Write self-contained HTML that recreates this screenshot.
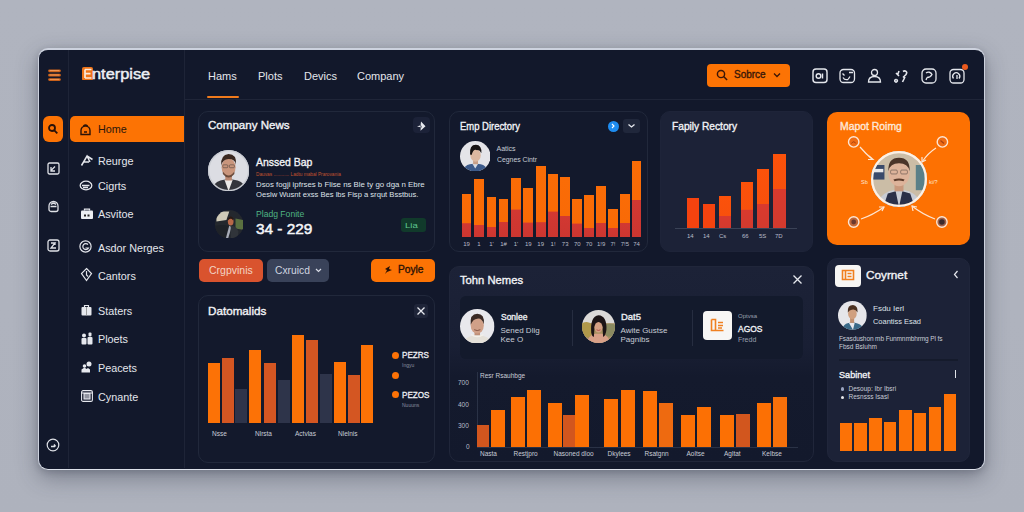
<!DOCTYPE html>
<html><head><meta charset="utf-8">
<style>
*{box-sizing:border-box;margin:0;padding:0}
html,body{width:1024px;height:512px;overflow:hidden}
body{font-family:"Liberation Sans",sans-serif;background:linear-gradient(180deg,#b0b4bf 0%,#afb3be 60%,#aeb2bd 100%);position:relative;color:#e8eaf0}
.a{position:absolute}
.app{position:absolute;left:38px;top:47.8px;width:947.4px;height:422.2px;background:#12182b;border:1.5px solid #cdd2de;border-top-width:2px;border-bottom-color:#dde1ea;border-radius:10px;box-shadow:0 8px 22px rgba(40,45,62,.38),0 2px 6px rgba(40,45,62,.2)}
.vl{position:absolute;width:1px;background:#1e2437}
.hl{position:absolute;height:1px;background:#1f2538}
.panel{position:absolute;background:#13192c;border:1px solid #21283b;border-radius:10px}
.t{position:absolute;white-space:nowrap;line-height:1}
.nav{position:absolute;left:98px;font-size:10.8px;color:#e4e6ec;white-space:nowrap;line-height:1}
.hn{position:absolute;top:71px;font-size:11px;color:#e4e6ec;white-space:nowrap;line-height:1}
.bar{position:absolute}
.o{background:#fc7206}
.r{background:#d45622}
.s{background:#2e344a}
.sb{font-weight:normal;-webkit-text-stroke:0.35px currentColor}
.hic{position:absolute;top:69px;width:14px;height:14px;border:1.3px solid #e6e8ee;border-radius:4px}
</style></head><body>
<div class="app"></div>
<!-- dividers -->
<div class="vl" style="left:68px;top:50px;height:418px"></div>
<div class="vl" style="left:184px;top:50px;height:418px"></div>
<div class="hl" style="left:185px;top:99px;width:799px"></div>

<!-- logo -->
<svg class="a" style="left:47.5px;top:68.5px" width="13" height="12.5" viewBox="0 0 13 12.5"><g stroke-linecap="round"><path d="M1.5 1.8h10M1.5 6.2h10M1.5 10.6h10" stroke="#c8601a" stroke-width="2.8"/><path d="M2 1.6h9M2 6h9M2 10.4h9" stroke="#f29a58" stroke-width="1"/></g></svg>


<svg class="a" style="left:81.5px;top:66.8px" width="11" height="13.5" viewBox="0 0 11 13.5"><rect x="0" y="0" width="11" height="13.5" rx="1.8" fill="#ee7418"/><path d="M3 2.5h6.5M3 6.7h5.5M3 11h6.5M3 2.5v8.5" stroke="#fbe8d8" stroke-width="1.7" fill="none"/></svg>
<div class="t sb" style="left:92.3px;top:65.5px;font-size:15px;color:#eef0f5;transform:scaleX(1.09);transform-origin:0 0;-webkit-text-stroke:0.45px #eef0f5">nterpise</div>

<!-- top nav -->
<div class="hn" style="left:208px">Hams</div>
<div class="hn" style="left:258px">Plots</div>
<div class="hn" style="left:304px">Devics</div>
<div class="hn" style="left:357px">Company</div>
<div class="a" style="left:207px;top:96px;width:32px;height:2px;background:#f07a1c;border-radius:1px"></div>

<!-- search -->
<div class="a" style="left:707px;top:64px;width:83px;height:23px;background:#fc7304;border-radius:4px"></div>
<div class="t sb" style="left:734px;top:70px;font-size:10px;color:#3a1808">Sobrce</div>

<!-- header icons -->
<svg class="a" style="left:812px;top:68px" width="16" height="16" viewBox="0 0 16 16" fill="none" stroke="#e4e6ec" stroke-width="1.45"><rect x="1" y="1" width="14" height="13.5" rx="3"/><circle cx="6.5" cy="8" r="2.3"/><path d="M10.5 5.5v5"/></svg>
<svg class="a" style="left:839px;top:68px" width="17" height="16" viewBox="0 0 17 16" fill="none" stroke="#e4e6ec" stroke-width="1.3"><rect x="1" y="1.5" width="14.5" height="13" rx="3.5"/><path d="M4 9.5c1 2 3 2.5 5 2 M9 11.5l2-3 M10 4.5h4 M3.5 5.5l2 2"/></svg>
<svg class="a" style="left:867px;top:68px" width="15" height="15" viewBox="0 0 15 15" fill="none" stroke="#e4e6ec" stroke-width="1.3"><circle cx="7.5" cy="4.5" r="3"/><path d="M1.5 14c0-3.5 2.5-5.5 6-5.5s6 2 6 5.5z"/></svg>
<svg class="a" style="left:894px;top:68px" width="16" height="16" viewBox="0 0 16 16" fill="none" stroke="#e4e6ec" stroke-width="1.6"><path d="M2 5l3 3 M5 3l-1.5 4 M9 3.5c2-1.5 5 0 3 3l-3 3 M11 9l-2.5 5 M2 11.5a1.3 1.3 0 1 0 .1 0"/></svg>
<svg class="a" style="left:921px;top:68px" width="16" height="16" viewBox="0 0 16 16" fill="none" stroke="#e4e6ec" stroke-width="1.3"><rect x="1" y="1" width="14" height="14" rx="4"/><path d="M5 5c2-1.5 5-1 6 1.5-1 2-3 3-5 3 M6 9.5l-1 2.5"/></svg>
<svg class="a" style="left:949px;top:68px" width="16" height="16" viewBox="0 0 16 16" fill="none" stroke="#e4e6ec" stroke-width="1.3"><rect x="1" y="1.5" width="14" height="13.5" rx="3.5"/><path d="M4.5 10.5a3.5 3.5 0 1 1 5.5 0 M8 7v4"/></svg>
<div class="a" style="left:961.5px;top:64.3px;width:6.2px;height:6.2px;border-radius:50%;background:#ec5a1e"></div>

<!-- search -->
<svg class="a" style="left:716px;top:69px" width="13" height="13" viewBox="0 0 13 13" fill="none" stroke="#3a1608" stroke-width="1.45"><circle cx="5" cy="5" r="3.6"/><path d="M7.6 7.6l3.5 3.5"/></svg>
<svg class="a" style="left:773px;top:72px" width="8" height="6" viewBox="0 0 8 6" fill="none" stroke="#3a1608" stroke-width="1.3"><path d="M1 1.5l3 3 3-3"/></svg>

<!-- rail -->
<div class="a" style="left:43px;top:116px;width:20px;height:26px;background:#fc7304;border-radius:6px"></div>
<svg class="a" style="left:47px;top:123px" width="12" height="12" viewBox="0 0 12 12" fill="none" stroke="#2a1208" stroke-width="1.8"><circle cx="5" cy="5" r="3"/><path d="M7.3 7.3l3 3"/></svg>
<svg class="a" style="left:47px;top:162px" width="13" height="13" viewBox="0 0 13 13" fill="none" stroke="#dfe1e7" stroke-width="1.3"><rect x="1" y="1" width="11" height="11" rx="1.5"/><path d="M4 8.5l4-4 M4 5v4h4"/></svg>
<svg class="a" style="left:47px;top:199px" width="13" height="14" viewBox="0 0 13 14" fill="none" stroke="#dfe1e7" stroke-width="1.3"><path d="M2 7a4.5 4.5 0 0 1 9 0v3.5a2 2 0 0 1-2 2H4a2 2 0 0 1-2-2z M3.5 7.5h6 M4 5.5c1.5-1.5 3.5-1.5 5 0"/></svg>
<svg class="a" style="left:47px;top:239px" width="13" height="13" viewBox="0 0 13 13" fill="none" stroke="#dfe1e7" stroke-width="1.3"><rect x="1" y="1" width="11" height="11" rx="2"/><path d="M4 4h4l-4 5h5 M8 4v2"/></svg>
<svg class="a" style="left:46px;top:438px" width="14" height="14" viewBox="0 0 14 14" fill="none" stroke="#dfe1e7" stroke-width="1.2"><circle cx="7" cy="7" r="5.8"/><path d="M5 8.5h4 M8 6.5l1.5 2" stroke-width="1.5"/></svg>

<!-- sidebar -->
<div class="a" style="left:70px;top:116px;width:114px;height:26px;background:#fc7304;border-radius:5px 0 0 5px"></div>
<div class="nav" style="top:123.7px;color:#2a160c">Home</div>
<div class="nav" style="top:155.7px">Reurge</div>
<div class="nav" style="top:180.7px">Cigrts</div>
<div class="nav" style="top:208.7px">Asvitoe</div>
<div class="nav" style="top:242.7px">Asdor Nerges</div>
<div class="nav" style="top:270.7px">Cantors</div>
<div class="nav" style="top:305.7px">Staters</div>
<div class="nav" style="top:333.7px">Ploets</div>
<div class="nav" style="top:362.7px">Peacets</div>
<div class="nav" style="top:391.7px">Cynante</div>

<!-- sidebar icons -->
<svg class="a" style="left:79px;top:122px" width="13" height="14" viewBox="0 0 13 14" fill="none" stroke="#2a1208" stroke-width="1.4"><path d="M2 12.5V8.5a4.5 4.5 0 0 1 9 0v4z M4.5 5a2 2 0 1 1 4 0 M5 10h3"/></svg>
<svg class="a" style="left:80px;top:154px" width="14" height="13" viewBox="0 0 14 13" fill="none" stroke="#e4e6ec" stroke-width="1.5"><path d="M1.5 11.5L7 2l3 6 M7 2l5.5 3.5 M4 8h5"/></svg>
<svg class="a" style="left:79px;top:180px" width="14" height="11" viewBox="0 0 14 11" fill="none" stroke="#e4e6ec" stroke-width="1.3"><ellipse cx="7" cy="5.5" rx="5.8" ry="4.3"/><path d="M3 5.5h7.5 M4 7.5h5"/></svg>
<svg class="a" style="left:80px;top:207px" width="14" height="13" viewBox="0 0 14 13" fill="none"><path d="M4.5 3.5V2.2h5v1.3" stroke="#e4e6ec" stroke-width="1.3"/><rect x="1" y="3.5" width="12" height="8.5" rx="1" fill="#eceef2"/><rect x="4" y="7.5" width="2" height="2" fill="#222"/><rect x="7.5" y="7.5" width="2" height="2" fill="#222"/></svg>
<svg class="a" style="left:79px;top:240px" width="13" height="13" viewBox="0 0 13 13" fill="none" stroke="#e4e6ec" stroke-width="1.2"><circle cx="6.5" cy="6.5" r="5.6"/><path d="M9 4.5a3 3 0 1 0 .5 3.5H6.5"/></svg>
<svg class="a" style="left:80px;top:267px" width="13" height="15" viewBox="0 0 13 15" fill="none" stroke="#e4e6ec" stroke-width="1.2"><path d="M6.5 1.5l5 5-5 7-5-7z M6.5 4v4l1.5 1.5"/></svg>
<svg class="a" style="left:81px;top:304px" width="11" height="12" viewBox="0 0 11 12" fill="none"><path d="M3.5 3V1.5h4V3" stroke="#e4e6ec" stroke-width="1.2"/><rect x="0.5" y="3" width="10" height="8.5" rx="1" fill="#e6e8ee"/><path d="M5.5 3v8.5" stroke="#888" stroke-width=".8"/></svg>
<svg class="a" style="left:81px;top:332px" width="12" height="13" viewBox="0 0 12 13" fill="#e6e8ee"><rect x="0.5" y="6" width="5" height="6.5" rx="1"/><rect x="6.5" y="5" width="5" height="7.5" rx="1"/><circle cx="3" cy="3.5" r="2"/><rect x="7.5" y="0.5" width="3" height="4" rx="1"/></svg>
<svg class="a" style="left:81px;top:361px" width="12" height="12" viewBox="0 0 12 12" fill="#e6e8ee"><path d="M0.5 11.5V8.5l3-2 2 1.5 1.5-1 2 1.5V11.5z"/><circle cx="8" cy="3" r="2.5"/><circle cx="3.5" cy="5" r="1.8"/></svg>
<svg class="a" style="left:81px;top:390px" width="12" height="12" viewBox="0 0 12 12" fill="none" stroke="#e6e8ee" stroke-width="1.1"><rect x="0.6" y="0.6" width="10.8" height="10.8" rx="1.5"/><rect x="3" y="3.5" width="6" height="5.5" fill="#e6e8ee" fill-opacity=".6"/><path d="M0.6 3h10.8"/></svg>

<!-- panels -->
<div class="panel" style="left:198px;top:111px;width:237px;height:141px"></div>
<div class="panel" style="left:198px;top:295px;width:237px;height:168px"></div>
<div class="panel" style="left:449px;top:111px;width:199px;height:141px"></div>
<div class="panel" style="left:660px;top:111px;width:153px;height:141px;background:#1c2237;border-color:#1e2439"></div>
<div class="panel" style="left:827px;top:111.5px;width:143px;height:133px;background:#fd7102;border:none"></div>
<div class="panel" style="left:449px;top:265.5px;width:364.5px;height:196px;background:linear-gradient(180deg,#1c2237 0,#1b2136 30px,#191f34 80px,#141a2d 110px,#13192c 100%);border-color:#20263a"></div>
<div class="panel" style="left:827px;top:257.5px;width:143px;height:204.2px;background:#1c2237;border-color:#20263b"></div>

<!-- company news -->
<div class="t sb" style="left:208px;top:120px;font-size:11px;color:#f2f3f6;transform:scaleX(1.05);transform-origin:0 0">Company News</div>
<div class="a" style="left:412.5px;top:116.7px;width:17px;height:16.5px;background:#1c2238;border-radius:4px"></div>
<svg class="a" style="left:415px;top:119.5px" width="12" height="12" viewBox="0 0 12 12"><path d="M6 1.5L10.5 6.3 5.5 10.8 5.8 7.2 2 6.6 5.6 5.3Z" fill="#e8eaf0"/><path d="M5.6 5.3L6.4 7.4" stroke="#1c2238" stroke-width=".9"/></svg>
<!--AV--><svg class="a" style="left:207.5px;top:149.7px" width="41.2" height="41.2" viewBox="0 0 100 100"><defs><clipPath id="c1"><circle cx="50" cy="50" r="50"/></clipPath></defs><g clip-path="url(#c1)"><rect width="100" height="100" fill="#dcdde3"/><path d="M8 100 Q12 80 30 74 L50 70 L72 74 Q90 80 94 100Z" fill="#34353b"/><path d="M40 72 L50 100 L60 72Z" fill="#eceae8"/><rect x="42" y="56" width="16" height="18" fill="#b88670"/><ellipse cx="50" cy="42" rx="17" ry="22" fill="#c9957c"/><path d="M36 52 Q50 72 64 52 L64 58 Q50 76 36 58Z" fill="#6a4a3a"/><path d="M32 38 Q30 12 50 10 Q70 10 68 36 Q66 22 50 22 Q36 22 32 38Z" fill="#3a2820"/><rect x="36" y="36" width="12" height="7" rx="2" fill="none" stroke="#5a4a42" stroke-width="1.5"/><rect x="52" y="36" width="12" height="7" rx="2" fill="none" stroke="#5a4a42" stroke-width="1.5"/></g><circle cx="50" cy="50" r="48.5" fill="none" stroke="#c8cbd2" stroke-width="3"/></svg>
<div class="t sb" style="left:255.5px;top:156.5px;font-size:11px;color:#f2f3f6;transform:scaleX(.95);transform-origin:0 0">Anssed Bap</div>
<div class="t" style="left:256px;top:170.5px;font-size:6px;color:#c4532f;transform:scaleX(.79);transform-origin:0 0">Dauvas ............ Ladtu mabal Prarovania</div>
<div class="t" style="left:256px;top:181px;font-size:8px;color:#dfe2e9;transform:scaleX(.98);transform-origin:0 0">Dsos fogji ipfrses b Flise ns Ble ty go dga n Ebre</div>
<div class="t" style="left:256px;top:191px;font-size:8px;color:#dfe2e9;transform:scaleX(.95);transform-origin:0 0">Oeslw Wusnt exss Bes lbs Fisp a srqut Bsstbus.</div>
<!--AV--><svg class="a" style="left:214.5px;top:209.5px" width="28.5" height="28.5" viewBox="0 0 100 100"><defs><clipPath id="c2"><circle cx="50" cy="50" r="50"/></clipPath></defs><g clip-path="url(#c2)"><rect width="100" height="100" fill="#24282e"/><path d="M5 5 H50 L40 35 L5 40Z" fill="#cfcab8"/><path d="M72 30 L100 35 V70 L72 65Z" fill="#5a7040"/><path d="M0 55 Q30 50 45 55 L40 100 H0Z" fill="#1e2228"/><path d="M50 55 L38 100 H46 L58 60Z" fill="#a8acb8"/><ellipse cx="55" cy="40" rx="10" ry="14" fill="#b86848"/><path d="M45 30 Q55 15 65 30 L63 36 Q55 26 47 36Z" fill="#2a1a14"/><path d="M55 55 Q75 55 82 75 L80 100 H55Z" fill="#30343a"/></g></svg>
<div class="t" style="left:256px;top:210px;font-size:8.6px;color:#4fb383">Pladg Fonite</div>
<div class="t sb" style="left:255.5px;top:222px;font-size:14.5px;color:#f4f5f8;transform:scaleX(1.06);transform-origin:0 0;-webkit-text-stroke:0.5px #f4f5f8">34 - 229</div>
<div class="a" style="left:401px;top:218px;width:25px;height:14px;background:#113a2b;border-radius:3px"></div>
<div class="t" style="left:405px;top:221.5px;font-size:8px;color:#5fc690;transform:scaleX(1.2);transform-origin:0 0">Lia</div>

<!-- datomalids -->
<div class="t sb" style="left:208px;top:305.5px;font-size:11px;color:#f2f3f6;transform:scaleX(1.06);transform-origin:0 0">Datomalids</div>
<div class="a" style="left:414px;top:304px;width:14px;height:14px;background:#1f2539;border-radius:3px"></div>
<svg class="a" style="left:416px;top:306px" width="10" height="10" viewBox="0 0 10 10" stroke="#e6e8ee" stroke-width="1.3"><path d="M1.5 1.5l7 7M8.5 1.5l-7 7"/></svg>
<div class="bar o" style="left:207.6px;top:363px;width:12px;height:60.0px"></div>
<div class="bar r" style="left:221.6px;top:357.7px;width:12px;height:65.3px"></div>
<div class="bar s" style="left:235.4px;top:388.7px;width:12px;height:34.3px"></div>
<div class="bar o" style="left:249.4px;top:349.8px;width:12px;height:73.2px"></div>
<div class="bar r" style="left:263.8px;top:363px;width:12px;height:60.0px"></div>
<div class="bar s" style="left:278.1px;top:380px;width:12px;height:43.0px"></div>
<div class="bar o" style="left:291.6px;top:335.2px;width:12px;height:87.8px"></div>
<div class="bar r" style="left:306.2px;top:339.6px;width:12px;height:83.4px"></div>
<div class="bar s" style="left:320px;top:374.4px;width:12px;height:48.6px"></div>
<div class="bar o" style="left:333.5px;top:362.1px;width:12px;height:60.9px"></div>
<div class="bar r" style="left:347.6px;top:374.8px;width:12px;height:48.2px"></div>
<div class="bar o" style="left:361.3px;top:345px;width:12px;height:78.0px"></div>
<div class="t" style="left:212px;top:431px;font-size:6.5px;color:#c8ccd6">Nsse</div>
<div class="t" style="left:255px;top:431px;font-size:6.5px;color:#c8ccd6">Nlrsta</div>
<div class="t" style="left:295px;top:431px;font-size:6.5px;color:#c8ccd6">Actvlas</div>
<div class="t" style="left:338px;top:431px;font-size:6.5px;color:#c8ccd6">Nlelnis</div>
<div class="a" style="left:392px;top:351.5px;width:7px;height:7px;border-radius:50%;background:#fc7206"></div>
<div class="a" style="left:392px;top:371.5px;width:7px;height:7px;border-radius:50%;background:#fc7206"></div>
<div class="a" style="left:392px;top:391px;width:7px;height:7px;border-radius:50%;background:#fc7206"></div>
<div class="t" style="left:402px;top:351px;font-size:8.5px;color:#eef0f4;transform:scaleX(.95);transform-origin:0 0;-webkit-text-stroke:.3px #eef0f4">PEZRS</div>
<div class="t" style="left:402px;top:363px;font-size:5px;color:#8a90a0">Ingyu</div>
<div class="t" style="left:402px;top:390.5px;font-size:8.5px;color:#eef0f4;transform:scaleX(.95);transform-origin:0 0;-webkit-text-stroke:.3px #eef0f4">PEZOS</div>
<div class="t" style="left:402px;top:402.5px;font-size:5px;color:#8a90a0">Nuuuns</div>

<!-- emp directory -->
<div class="t sb" style="left:460px;top:121px;font-size:10.5px;color:#f2f3f6;transform:scaleX(.9);transform-origin:0 0">Emp Directory</div>
<div class="a" style="left:607.5px;top:120.5px;width:11px;height:11px;border-radius:50%;background:#1e8cf0"></div>
<svg class="a" style="left:610px;top:123px" width="6" height="6" viewBox="0 0 6 6" fill="none" stroke="#fff" stroke-width="1.1"><path d="M2 1l2 2-2 2"/></svg>
<div class="a" style="left:623px;top:119px;width:16.5px;height:14px;background:#20273b;border-radius:3px"></div>
<svg class="a" style="left:627px;top:123px" width="9" height="6" viewBox="0 0 9 6" fill="none" stroke="#e6e8ee" stroke-width="1.3"><path d="M1.5 1.5l3 2.5 3-2.5"/></svg>
<!--AV--><svg class="a" style="left:459.7px;top:140.8px" width="30.5" height="30.5" viewBox="0 0 100 100"><defs><clipPath id="c3"><circle cx="50" cy="50" r="50"/></clipPath></defs><g clip-path="url(#c3)"><rect width="100" height="100" fill="#e4e4e8"/><path d="M8 100 Q14 80 32 76 L50 74 L68 76 Q86 80 92 100Z" fill="#3c5a8a"/><path d="M40 74 L50 90 L60 74Z" fill="#d8dce4"/><rect x="43" y="60" width="16" height="16" fill="#c8a088"/><ellipse cx="51" cy="47" rx="17" ry="21" fill="#dcb8a0"/><path d="M33 44 Q30 12 52 12 Q72 12 70 40 Q64 28 56 30 Q44 24 38 46Z" fill="#181414"/></g></svg>
<div class="t" style="left:496.5px;top:144.5px;font-size:7px;color:#c7cbd5">Aatics</div>
<div class="t" style="left:496.5px;top:155.5px;font-size:7px;color:#c7cbd5;transform:scaleX(.98);transform-origin:0 0">Cegnes Cintr</div>
<div class="bar" style="left:461.6px;top:194.3px;width:9.8px;height:42.3px;background:linear-gradient(180deg,#fa6c06 0,#f96a06 29.1px,#d23832 29.6px,#cc3630 100%)"></div>
<div class="bar" style="left:474px;top:178.8px;width:9.8px;height:57.8px;background:linear-gradient(180deg,#fa6c06 0,#f96a06 45.8px,#d23832 46.3px,#cc3630 100%)"></div>
<div class="bar" style="left:486.5px;top:196.7px;width:9.8px;height:39.9px;background:linear-gradient(180deg,#fa6c06 0,#f96a06 30.0px,#d23832 30.5px,#cc3630 100%)"></div>
<div class="bar" style="left:498.6px;top:199.1px;width:9.8px;height:37.5px;background:linear-gradient(180deg,#fa6c06 0,#f96a06 22.5px,#d23832 23.0px,#cc3630 100%)"></div>
<div class="bar" style="left:511px;top:178.2px;width:9.8px;height:58.4px;background:linear-gradient(180deg,#fa6c06 0,#f96a06 31.3px,#d23832 31.8px,#cc3630 100%)"></div>
<div class="bar" style="left:523.4px;top:187.6px;width:9.8px;height:49.0px;background:linear-gradient(180deg,#fa6c06 0,#f96a06 34.3px,#d23832 34.8px,#cc3630 100%)"></div>
<div class="bar" style="left:535.8px;top:165.5px;width:9.8px;height:71.1px;background:linear-gradient(180deg,#fa6c06 0,#f96a06 56.1px,#d23832 56.6px,#cc3630 100%)"></div>
<div class="bar" style="left:548.2px;top:174px;width:9.8px;height:62.6px;background:linear-gradient(180deg,#fa6c06 0,#f96a06 37.3px,#d23832 37.8px,#cc3630 100%)"></div>
<div class="bar" style="left:560.3px;top:176.7px;width:9.8px;height:59.9px;background:linear-gradient(180deg,#fa6c06 0,#f96a06 38.8px,#d23832 39.3px,#cc3630 100%)"></div>
<div class="bar" style="left:572.4px;top:198.5px;width:9.8px;height:38.1px;background:linear-gradient(180deg,#fa6c06 0,#f96a06 24.3px,#d23832 24.8px,#cc3630 100%)"></div>
<div class="bar" style="left:584.2px;top:194.9px;width:9.8px;height:41.7px;background:linear-gradient(180deg,#fa6c06 0,#f96a06 33.0px,#d23832 33.5px,#cc3630 100%)"></div>
<div class="bar" style="left:596.3px;top:185.8px;width:9.8px;height:50.8px;background:linear-gradient(180deg,#fa6c06 0,#f96a06 36.7px,#d23832 37.2px,#cc3630 100%)"></div>
<div class="bar" style="left:608.1px;top:208.8px;width:9.8px;height:27.8px;background:linear-gradient(180deg,#fa6c06 0,#f96a06 18.5px,#d23832 19.0px,#cc3630 100%)"></div>
<div class="bar" style="left:619.9px;top:194px;width:9.8px;height:42.6px;background:linear-gradient(180deg,#fa6c06 0,#f96a06 28.5px,#d23832 29.0px,#cc3630 100%)"></div>
<div class="bar" style="left:631.7px;top:161px;width:9.8px;height:75.6px;background:linear-gradient(180deg,#fa6c06 0,#f96a06 38.8px,#d23832 39.3px,#cc3630 100%)"></div>
<div class="t" style="left:466.5px;top:241px;font-size:6px;color:#b8bcc8;transform:translateX(-50%)">19</div>
<div class="t" style="left:478.9px;top:241px;font-size:6px;color:#b8bcc8;transform:translateX(-50%)">1</div>
<div class="t" style="left:491.4px;top:241px;font-size:6px;color:#b8bcc8;transform:translateX(-50%)">1'</div>
<div class="t" style="left:503.5px;top:241px;font-size:6px;color:#b8bcc8;transform:translateX(-50%)">1#</div>
<div class="t" style="left:515.9px;top:241px;font-size:6px;color:#b8bcc8;transform:translateX(-50%)">1'</div>
<div class="t" style="left:528.3px;top:241px;font-size:6px;color:#b8bcc8;transform:translateX(-50%)">19</div>
<div class="t" style="left:540.6999999999999px;top:241px;font-size:6px;color:#b8bcc8;transform:translateX(-50%)">19</div>
<div class="t" style="left:553.1px;top:241px;font-size:6px;color:#b8bcc8;transform:translateX(-50%)">1!</div>
<div class="t" style="left:565.1999999999999px;top:241px;font-size:6px;color:#b8bcc8;transform:translateX(-50%)">73</div>
<div class="t" style="left:577.3px;top:241px;font-size:6px;color:#b8bcc8;transform:translateX(-50%)">70</div>
<div class="t" style="left:589.1px;top:241px;font-size:6px;color:#b8bcc8;transform:translateX(-50%)">70</div>
<div class="t" style="left:601.1999999999999px;top:241px;font-size:6px;color:#b8bcc8;transform:translateX(-50%)">1!9</div>
<div class="t" style="left:613.0px;top:241px;font-size:6px;color:#b8bcc8;transform:translateX(-50%)">7!</div>
<div class="t" style="left:624.8px;top:241px;font-size:6px;color:#b8bcc8;transform:translateX(-50%)">7!5</div>
<div class="t" style="left:636.6px;top:241px;font-size:6px;color:#b8bcc8;transform:translateX(-50%)">74</div>

<!-- fapily -->
<div class="t sb" style="left:671.5px;top:121px;font-size:10.5px;color:#f2f3f6;transform:scaleX(.97);transform-origin:0 0">Fapily Rectory</div>
<div class="a" style="left:675px;top:227.5px;width:122px;height:1px;background:#3a4256"></div>
<div class="bar" style="left:686.8px;top:198.2px;width:12.4px;height:29.7px;background:#f5430f"></div>
<div class="bar" style="left:702.5px;top:204px;width:12.5px;height:23.9px;background:#f5430f"></div>
<div class="bar" style="left:718.6px;top:195.5px;width:12.4px;height:32.4px;background:linear-gradient(180deg,#fb520a 0,#f8500c 19.8px,#d93a2e 20.3px,#d33a2e 100%)"></div>
<div class="bar" style="left:741px;top:181.9px;width:12.4px;height:46.0px;background:linear-gradient(180deg,#fb520a 0,#f8500c 27.4px,#d93a2e 27.9px,#d33a2e 100%)"></div>
<div class="bar" style="left:757px;top:168.6px;width:12.4px;height:59.3px;background:linear-gradient(180deg,#fb520a 0,#f8500c 34.9px,#d93a2e 35.4px,#d33a2e 100%)"></div>
<div class="bar" style="left:773px;top:153.7px;width:12.8px;height:74.2px;background:linear-gradient(180deg,#fb520a 0,#f8500c 35.0px,#d93a2e 35.5px,#d33a2e 100%)"></div>
<div class="t" style="left:687px;top:233px;font-size:6px;color:#b8bcc8">14</div>
<div class="t" style="left:703px;top:233px;font-size:6px;color:#b8bcc8">14</div>
<div class="t" style="left:719px;top:233px;font-size:6px;color:#b8bcc8">Cs</div>
<div class="t" style="left:742px;top:233px;font-size:6px;color:#b8bcc8">66</div>
<div class="t" style="left:759px;top:233px;font-size:6px;color:#b8bcc8">5S</div>
<div class="t" style="left:775px;top:233px;font-size:6px;color:#b8bcc8">7D</div>

<!-- mapot rating -->
<div class="t sb" style="left:839.5px;top:121px;font-size:10.5px;color:#fde9da;transform:scaleX(.99);transform-origin:0 0">Mapot Roimg</div>
<svg class="a" style="left:827px;top:111px" width="143" height="133" viewBox="827 111 143 133" fill="none" stroke="#fde6d4" stroke-width="1.2">
<path d="M860 147 Q866 154 872 159"/><path d="M869 156l4 3.5-5 0"/>
<path d="M936 148 Q928 153 922 162"/><path d="M922 157l0 5 4-2"/>
<path d="M861 219 Q873 215 884 207"/><path d="M879 207l5 0-2 4"/>
<path d="M935 219 Q922 214 912 206"/><path d="M913 211l-1-5 5 1"/>
<circle cx="853.7" cy="141.9" r="5.2" fill="#ef6c14" stroke-width="1.4"/><path d="M851.5 143.5q2.2-3.5 4.4 0" stroke="#a84010" stroke-width="1"/>
<circle cx="942.4" cy="141.9" r="5.2" fill="#ef6c14" stroke-width="1.4"/><path d="M940.5 140.5l3.5 3" stroke="#a84010" stroke-width="1.2"/>
<circle cx="853.7" cy="222" r="5.2" fill="#c0683a" stroke-width="1.4"/><circle cx="853.7" cy="222" r="2.4" fill="#6a3a30" stroke="none"/>
<circle cx="941.9" cy="222" r="5.2" fill="#a06048" stroke-width="1.4"/><circle cx="941.9" cy="222" r="2.8" fill="#3a2a2c" stroke="none"/>
</svg>
<!--AV--><svg class="a" style="left:870.5px;top:150.5px" width="56" height="56" viewBox="0 0 100 100"><defs><clipPath id="c4"><circle cx="50" cy="50" r="50"/></clipPath></defs><g clip-path="url(#c4)"><rect width="100" height="100" fill="#c8baa2"/><rect x="0" y="0" width="100" height="100" fill="#cbbda6"/><rect x="0" y="25" width="24" height="26" fill="#3a4a6a"/><rect x="0" y="32" width="22" height="6" fill="#e8e8ea"/><rect x="80" y="25" width="16" height="45" fill="#5a8088"/><path d="M8 100 Q14 80 32 72 L50 68 L68 72 Q86 80 92 100Z" fill="#c8ccd4"/><path d="M22 100 L30 76 L44 72 L50 100Z M78 100 L70 76 L56 72 L50 100Z" fill="#2a3048"/><rect x="42" y="56" width="16" height="16" fill="#c8987c"/><ellipse cx="50" cy="40" rx="19" ry="23" fill="#ddb39a"/><path d="M31 36 Q30 12 50 12 Q70 12 69 36 Q66 22 50 22 Q34 22 31 36Z" fill="#4a3428"/><path d="M40 51 Q50 47 60 51 L58 54 Q50 51 42 54Z" fill="#5a3a2a"/><rect x="35" y="34" width="12" height="7" rx="2" fill="none" stroke="#6a5a50" stroke-width="1.2"/><rect x="53" y="34" width="12" height="7" rx="2" fill="none" stroke="#6a5a50" stroke-width="1.2"/></g><circle cx="50" cy="50" r="48.0" fill="none" stroke="#fdf0e4" stroke-width="4"/></svg>
<div class="t" style="left:861px;top:180px;font-size:5.5px;color:#fde6d4">Sb</div>
<div class="t" style="left:929px;top:180px;font-size:5.5px;color:#fde6d4">ki/?</div>

<!-- tohn nemes -->
<div class="a" style="left:460px;top:296px;width:343px;height:63px;background:#131a2c;border-radius:6px"></div>
<div class="t sb" style="left:459.5px;top:275px;font-size:11px;color:#f2f3f6;transform:scaleX(1.02);transform-origin:0 0">Tohn Nemes</div>
<svg class="a" style="left:792px;top:274px" width="11" height="11" viewBox="0 0 11 11" stroke="#e6e8ee" stroke-width="1.3"><path d="M1.5 1.5l8 8M9.5 1.5l-8 8"/></svg>
<!--AV--><svg class="a" style="left:460.1px;top:308.9px" width="34.5" height="34.5" viewBox="0 0 100 100"><defs><clipPath id="c5"><circle cx="50" cy="50" r="50"/></clipPath></defs><g clip-path="url(#c5)"><rect width="100" height="100" fill="#e8e8ec"/><path d="M8 100 Q14 82 32 78 L50 76 L68 78 Q86 82 92 100Z" fill="#e4e0d8"/><path d="M32 74 Q50 86 68 74" fill="none" stroke="#f4f0e8" stroke-width="4"/><rect x="42" y="62" width="16" height="14" fill="#c09078"/><ellipse cx="50" cy="48" rx="19" ry="23" fill="#d0a088"/><path d="M31 46 Q28 14 50 14 Q72 14 69 44 Q64 26 50 28 Q38 28 31 46Z" fill="#3a2a24"/><path d="M41 60 Q50 65 59 60" stroke="#7a4a3a" stroke-width="2.5" fill="none"/></g></svg>
<div class="t sb" style="left:500.5px;top:313px;font-size:9px;color:#eceef2;transform:scaleX(.94);transform-origin:0 0">Sonlee</div>
<div class="t" style="left:500.5px;top:326.5px;font-size:8px;color:#c8ccd6">Sened Dlig</div>
<div class="t" style="left:500.5px;top:335.5px;font-size:8px;color:#c8ccd6">Kee O</div>
<div class="a" style="left:572px;top:310px;width:1px;height:36px;background:#262d40"></div>
<!--AV--><svg class="a" style="left:581.5px;top:309.7px" width="33" height="33" viewBox="0 0 100 100"><defs><clipPath id="c6"><circle cx="50" cy="50" r="50"/></clipPath></defs><g clip-path="url(#c6)"><rect width="100" height="100" fill="#dcdad8"/><rect x="0" y="40" width="100" height="60" fill="#a89060"/><path d="M0 40 Q20 30 30 45 L28 80 L0 85Z" fill="#b0984a"/><path d="M70 45 Q85 38 100 45 V80 L72 80Z" fill="#8a8a60"/><path d="M14 100 Q20 76 40 72 L60 72 Q80 76 86 100Z" fill="#d8a088"/><path d="M28 70 Q24 20 50 16 Q76 18 74 60 Q72 78 64 82 L62 50 Q50 36 38 50 L36 82 Q30 80 28 70Z" fill="#1c1416"/><ellipse cx="50" cy="52" rx="12" ry="16" fill="#d4a084"/><path d="M44 60 Q50 64 56 60" stroke="#a84040" stroke-width="2.5" fill="none"/></g></svg>
<div class="t sb" style="left:620.5px;top:313px;font-size:9px;color:#eceef2;transform:scaleX(1.05);transform-origin:0 0">Dat5</div>
<div class="t" style="left:620.5px;top:326.5px;font-size:8px;color:#c8ccd6">Awite Gustse</div>
<div class="t" style="left:620.5px;top:335.5px;font-size:8px;color:#c8ccd6">Pagnibs</div>
<div class="a" style="left:692px;top:310px;width:1px;height:36px;background:#262d40"></div>
<div class="a" style="left:703px;top:311px;width:28.5px;height:29px;background:#f7f6f4;border-radius:4px"></div>
<svg class="a" style="left:710px;top:318px" width="15" height="14" viewBox="0 0 15 14" fill="none" stroke="#f08020" stroke-width="1.6"><path d="M1.5 1.5v11h12 M1.5 1.5h4v11 M8 4.5h5 M8 7.5h5 M8 10h4"/></svg>
<div class="t" style="left:738px;top:313px;font-size:6px;color:#9aa0b0">Optvsa</div>
<div class="t sb" style="left:738px;top:323.5px;font-size:9.5px;color:#f2f3f6;transform:scaleX(.89);transform-origin:0 0">AGOS</div>
<div class="t" style="left:738px;top:336px;font-size:7px;color:#9aa0b0">Fredd</div>
<div class="a" style="left:476.5px;top:372px;width:1px;height:75px;background:#2a3246"></div>
<div class="a" style="left:476.5px;top:446.5px;width:321px;height:1px;background:#2a3246"></div>
<div class="t" style="left:480px;top:373px;font-size:6.5px;color:#c8ccd6">Resr Rsauhbge</div>
<div class="t" style="left:458px;top:379.5px;font-size:6.5px;color:#b8bcc8">700</div>
<div class="t" style="left:458px;top:402px;font-size:6.5px;color:#b8bcc8">400</div>
<div class="t" style="left:458px;top:423px;font-size:6.5px;color:#b8bcc8">300</div>
<div class="t" style="left:466px;top:443.5px;font-size:6.5px;color:#b8bcc8">0</div>
<div class="bar" style="left:476.7px;top:425px;width:12.3px;height:21.6px;background:#d2561e"></div>
<div class="bar" style="left:491px;top:410.1px;width:14.0px;height:36.5px;background:#fc7004"></div>
<div class="bar" style="left:511px;top:396.5px;width:13.9px;height:50.1px;background:#fc7004"></div>
<div class="bar" style="left:527.3px;top:390.2px;width:14.2px;height:56.4px;background:#fc7004"></div>
<div class="bar" style="left:547.5px;top:402.5px;width:14.3px;height:44.1px;background:#fc7004"></div>
<div class="bar" style="left:563.3px;top:414.8px;width:11.9px;height:31.8px;background:#d2561e"></div>
<div class="bar" style="left:575.2px;top:394.9px;width:13.9px;height:51.7px;background:#fc7004"></div>
<div class="bar" style="left:604.3px;top:399px;width:13.9px;height:47.6px;background:#fc7004"></div>
<div class="bar" style="left:621.3px;top:390.2px;width:13.4px;height:56.4px;background:#fc7004"></div>
<div class="bar" style="left:642.7px;top:390.8px;width:14.0px;height:55.8px;background:#fc7004"></div>
<div class="bar" style="left:659.1px;top:402.7px;width:14.0px;height:43.9px;background:#ee6a10"></div>
<div class="bar" style="left:680.9px;top:414.8px;width:13.9px;height:31.8px;background:#fc7004"></div>
<div class="bar" style="left:697.1px;top:407.2px;width:14.1px;height:39.4px;background:#fc7004"></div>
<div class="bar" style="left:720.3px;top:414.8px;width:13.7px;height:31.8px;background:#fc7004"></div>
<div class="bar" style="left:736.1px;top:414px;width:13.5px;height:32.6px;background:#d2561e"></div>
<div class="bar" style="left:757.2px;top:402.7px;width:13.5px;height:43.9px;background:#fc7004"></div>
<div class="bar" style="left:773.2px;top:396.5px;width:14.0px;height:50.1px;background:#f6700a"></div>
<div class="t" style="left:480px;top:451px;font-size:6.5px;color:#c8ccd6">Nasta</div>
<div class="t" style="left:513.5px;top:451px;font-size:6.5px;color:#c8ccd6">Restjpro</div>
<div class="t" style="left:553.5px;top:451px;font-size:6.5px;color:#c8ccd6">Nasoned dloo</div>
<div class="t" style="left:607.5px;top:451px;font-size:6.5px;color:#c8ccd6">Dkylees</div>
<div class="t" style="left:644.5px;top:451px;font-size:6.5px;color:#c8ccd6">Rsatgnn</div>
<div class="t" style="left:686.5px;top:451px;font-size:6.5px;color:#c8ccd6">Aoltse</div>
<div class="t" style="left:724px;top:451px;font-size:6.5px;color:#c8ccd6">Agltat</div>
<div class="t" style="left:762px;top:451px;font-size:6.5px;color:#c8ccd6">Kelbse</div>

<!-- coyrnet -->
<div class="a" style="left:835px;top:264.5px;width:26px;height:22px;background:#f7f6f4;border-radius:4px"></div>
<svg class="a" style="left:841px;top:269px" width="14" height="12" viewBox="0 0 14 12" fill="none" stroke="#f08020" stroke-width="1.6"><path d="M1.5 1.5h11v9h-11z M4.5 1.5v9 M6.5 4.5h4 M6.5 7.5h4"/></svg>
<div class="t sb" style="left:865.5px;top:269.5px;font-size:10.5px;color:#f2f3f6;transform:scaleX(1.12);transform-origin:0 0">Coyrnet</div>
<svg class="a" style="left:953px;top:270px" width="6" height="9" viewBox="0 0 6 9" fill="none" stroke="#e6e8ee" stroke-width="1.2"><path d="M4.5 1L1.5 4.5 4.5 8"/></svg>
<!--AV--><svg class="a" style="left:838.2px;top:301.2px" width="28.8" height="28.8" viewBox="0 0 100 100"><defs><clipPath id="c7"><circle cx="50" cy="50" r="50"/></clipPath></defs><g clip-path="url(#c7)"><rect width="100" height="100" fill="#e6e6ea"/><path d="M14 100 Q18 80 36 76 L52 74 L68 78 Q86 84 90 100Z" fill="#3a6a88"/><path d="M38 76 L52 100 L58 76Z" fill="#e8e8ec"/><rect x="42" y="58" width="14" height="18" fill="#c09070"/><ellipse cx="50" cy="44" rx="15" ry="19" fill="#d0a080"/><path d="M34 40 Q32 14 52 14 Q70 16 68 40 Q60 26 48 30 Q40 30 34 40Z" fill="#4a3020"/></g></svg>
<div class="t" style="left:873px;top:305px;font-size:8px;color:#dfe2e8">Fsdu Ierl</div>
<div class="t" style="left:873px;top:318px;font-size:8px;color:#dfe2e8;transform:scaleX(.93);transform-origin:0 0">Coantiss Esad</div>
<div class="t" style="left:839px;top:335.5px;font-size:6.5px;color:#c8ccd6;letter-spacing:-0.1px">Fsasdushon mb Funmnmbhrmg Pl fs</div>
<div class="t" style="left:839px;top:343.5px;font-size:6.5px;color:#c8ccd6">Fbsd Bsluhm</div>
<div class="a" style="left:839px;top:359px;width:119px;height:2px;background:#151b2c"></div>
<div class="t sb" style="left:839px;top:370px;font-size:9.5px;color:#f2f3f6;transform:scaleX(.96);transform-origin:0 0">Sabinet</div>
<div class="a" style="left:954.5px;top:370px;width:1.3px;height:8px;background:#dfe2e8"></div>
<div class="a" style="left:840.5px;top:387px;width:3.5px;height:3.5px;border-radius:50%;background:#9aa4c0"></div>
<div class="a" style="left:840.5px;top:395.5px;width:3.5px;height:3.5px;border-radius:50%;background:#e8e8ea"></div>
<div class="t" style="left:848.5px;top:385.5px;font-size:6.5px;color:#c8ccd6">Desoup: Ibr Ibsri</div>
<div class="t" style="left:848.5px;top:394px;font-size:6.5px;color:#c8ccd6">Resnsss Isasl</div>
<div class="bar o" style="left:839.5px;top:422.8px;width:12.7px;height:28.4px"></div>
<div class="bar o" style="left:854.1px;top:422.8px;width:12.6px;height:28.4px"></div>
<div class="bar o" style="left:869.1px;top:417.7px;width:12.6px;height:33.5px"></div>
<div class="bar o" style="left:883.6px;top:421.6px;width:12.9px;height:29.6px"></div>
<div class="bar o" style="left:898.8px;top:410.2px;width:12.9px;height:41.0px"></div>
<div class="bar o" style="left:913.6px;top:413px;width:12.6px;height:38.2px"></div>
<div class="bar o" style="left:928.6px;top:407.1px;width:12.6px;height:44.1px"></div>
<div class="bar o" style="left:943.8px;top:394.2px;width:12.4px;height:57.0px"></div>

<!-- buttons -->
<div class="a" style="left:199px;top:259px;width:64px;height:23px;background:#d9532e;border-radius:5px"></div>
<div class="a" style="left:267px;top:259px;width:62px;height:23px;background:#394259;border-radius:5px"></div>
<div class="a" style="left:371px;top:259px;width:64px;height:23px;background:#fc7304;border-radius:5px"></div>

<div class="t" style="left:208.5px;top:265.5px;font-size:10px;color:#f3d4c4;transform:scaleX(1.05);transform-origin:0 0">Crgpvinis</div>
<div class="t" style="left:274.5px;top:265.5px;font-size:10px;color:#d0d5e0;transform:scaleX(1.03);transform-origin:0 0">Cxruicd</div>
<svg class="a" style="left:315px;top:268px" width="7" height="5" viewBox="0 0 7 5" fill="none" stroke="#d8dce6" stroke-width="1.2"><path d="M1 1l2.5 2.5L6 1"/></svg>
<svg class="a" style="left:383px;top:265px" width="10" height="10" viewBox="0 0 10 10" fill="#2a1206"><path d="M2 9l2-4-2-1 5-3-1 3 3 1-5 2z"/></svg>
<div class="t sb" style="left:398.3px;top:265px;font-size:10px;color:#2a1206;transform:scaleX(1.02);transform-origin:0 0">Poyle</div>
</body></html>
